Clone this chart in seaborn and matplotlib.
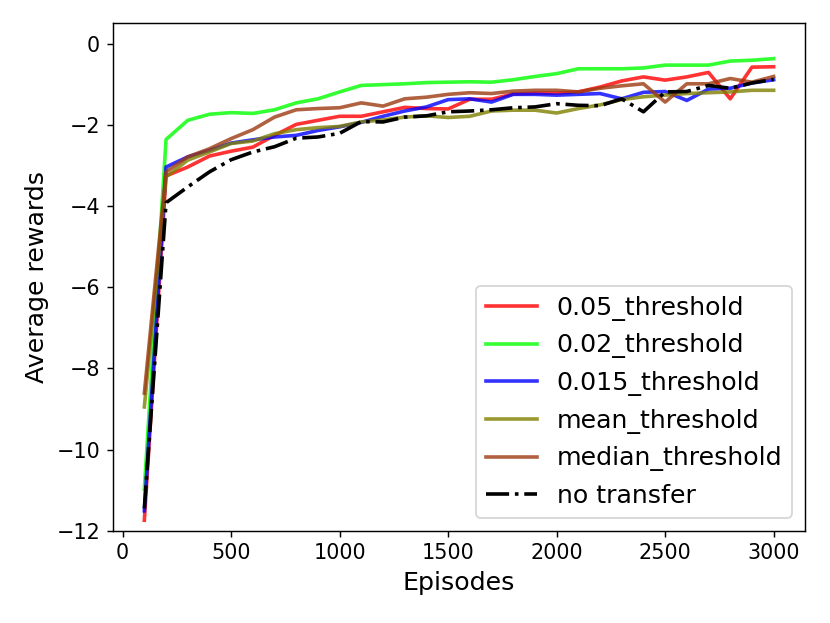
import numpy as np
import pandas as pd
import matplotlib
matplotlib.use('Agg')
import matplotlib.pyplot as plt
import seaborn as sns

# episodes (x axis)
episodes = list(range(100, 3100, 100))

# average rewards per method
th_005 = [-11.74, -3.26, -3.04, -2.77, -2.65, -2.55, -2.26, -1.99, -1.89, -1.79,
          -1.79, -1.68, -1.57, -1.60, -1.61, -1.37, -1.37, -1.24, -1.22, -1.22,
          -1.19, -1.07, -0.92, -0.82, -0.90, -0.82, -0.71, -1.36, -0.58, -0.57]
th_002 = [-10.97, -2.36, -1.89, -1.74, -1.70, -1.72, -1.63, -1.46, -1.36, -1.19,
          -1.03, -1.01, -0.99, -0.96, -0.95, -0.94, -0.95, -0.89, -0.81, -0.74,
          -0.62, -0.62, -0.62, -0.60, -0.53, -0.53, -0.53, -0.43, -0.41, -0.37]
th_0015 = [-11.51, -3.04, -2.79, -2.63, -2.45, -2.37, -2.30, -2.26, -2.14, -2.05,
           -1.94, -1.79, -1.66, -1.56, -1.38, -1.36, -1.44, -1.25, -1.25, -1.27,
           -1.25, -1.23, -1.36, -1.20, -1.18, -1.40, -1.12, -1.10, -0.97, -0.89]
th_mean = [-8.95, -3.28, -2.87, -2.67, -2.46, -2.40, -2.22, -2.12, -2.07, -2.04,
           -1.93, -1.88, -1.81, -1.78, -1.82, -1.79, -1.66, -1.64, -1.64, -1.71,
           -1.60, -1.51, -1.38, -1.31, -1.27, -1.23, -1.21, -1.19, -1.15, -1.15]
th_median = [-8.61, -3.16, -2.79, -2.59, -2.34, -2.12, -1.81, -1.63, -1.60, -1.58,
             -1.46, -1.54, -1.36, -1.32, -1.25, -1.21, -1.23, -1.17, -1.15, -1.15,
             -1.19, -1.10, -1.04, -0.99, -1.44, -0.99, -0.99, -0.86, -0.95, -0.81]
no_transfer = [-11.45, -3.92, -3.53, -3.16, -2.86, -2.67, -2.54, -2.33, -2.30, -2.21,
               -1.92, -1.93, -1.81, -1.78, -1.68, -1.66, -1.63, -1.58, -1.56, -1.48,
               -1.52, -1.53, -1.36, -1.68, -1.19, -1.18, -1.03, -1.10, -0.97, -0.88]

series = [
    ('0.05_threshold', th_005, 'red'),
    ('0.02_threshold', th_002, 'lime'),
    ('0.015_threshold', th_0015, 'blue'),
    ('mean_threshold', th_mean, 'olive'),
    ('median_threshold', th_median, '#9b3a10'),
]

fig = plt.figure(figsize=(830 / 130, 623 / 130), dpi=130)
ax = fig.add_axes([0.136, 0.148, 0.834, 0.8146])

for name, vals, col in series:
    df = pd.DataFrame({'Episodes': episodes, 'reward': vals})
    sns.lineplot(data=df, x='Episodes', y='reward', color=col, alpha=0.8,
                 linewidth=2, label=name, ax=ax)

df = pd.DataFrame({'Episodes': episodes, 'reward': no_transfer})
sns.lineplot(data=df, x='Episodes', y='reward', color='black', linestyle='-.',
             linewidth=2, label='no transfer', ax=ax)

ax.set_ylim(-12, 0.5)
ax.set_xlabel('Episodes', fontsize=14)
ax.set_ylabel('Average rewards', fontsize=14)
ax.tick_params(labelsize=11.5)
ax.legend(loc='lower right', fontsize=14)

plt.savefig('out.png', dpi=130)
